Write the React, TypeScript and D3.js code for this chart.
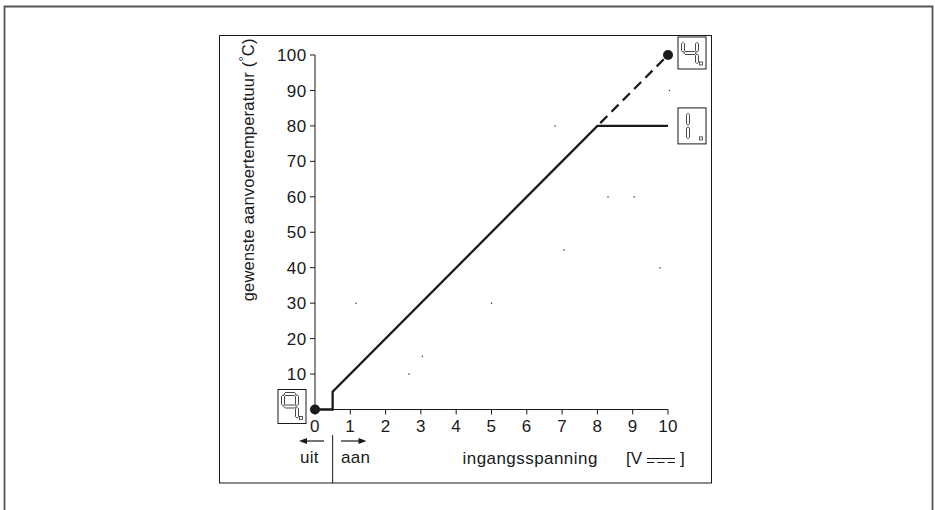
import React from "react";
import * as d3 from "d3";

const voltage = [0, 0.5, 0.5, 8, 10];
const setpoint = [0, 0, 5, 80, 80];
const dashedVoltage = [8, 10];
const dashedSetpoint = [80, 100];
const endDotsV = [0, 10];
const endDotsT = [0, 100];
const xTicks = [0, 1, 2, 3, 4, 5, 6, 7, 8, 9, 10];
const yTicks = [10, 20, 30, 40, 50, 60, 70, 80, 90, 100];
const strayV = [1.16, 2.66, 3.04, 5.0, 6.8, 7.05, 8.3, 9.04, 9.77, 10.04];
const strayT = [30, 10, 15, 30, 80, 45, 60, 60, 40, 90];

const W = 935;
const H = 510;
const FONT = "'Liberation Sans', Arial, Helvetica, sans-serif";
const INK = "#1a1a1a";

type Seg = "a" | "b" | "c" | "d" | "e" | "f" | "g";
function segPoly(seg: Seg, x: number, y: number, w: number, h: number, t: number): string {
  const hh = h / 2;
  const g = 0.8;
  const horiz = (yy: number) => [
    [x + g, yy], [x + g + t / 2, yy - t / 2], [x + w - g - t / 2, yy - t / 2], [x + w - g, yy],
    [x + w - g - t / 2, yy + t / 2], [x + g + t / 2, yy + t / 2],
  ] as [number, number][];
  const vert = (xx: number, y0: number, y1: number) => [
    [xx, y0 + g], [xx + t / 2, y0 + g + t / 2], [xx + t / 2, y1 - g - t / 2], [xx, y1 - g],
    [xx - t / 2, y1 - g - t / 2], [xx - t / 2, y0 + g + t / 2],
  ] as [number, number][];
  let pts: [number, number][] = [];
  switch (seg) {
    case "a": pts = horiz(y); break;
    case "g": pts = horiz(y + hh); break;
    case "d": pts = horiz(y + h); break;
    case "f": pts = vert(x, y, y + hh); break;
    case "e": pts = vert(x, y + hh, y + h); break;
    case "b": pts = vert(x + w, y, y + hh); break;
    case "c": pts = vert(x + w, y + hh, y + h); break;
  }
  return pts.map((p) => p.join(",")).join(" ");
}

function Display({ bx, by, bw, bh, segs, shift = 0 }: { bx: number; by: number; bw: number; bh: number; segs: Seg[]; shift?: number }) {
  const dx = bx + 5 + shift;
  const dy = by + 4.5;
  const dw = 14;
  const dh = bh - 9;
  return (
    <g>
      <rect x={bx} y={by} width={bw} height={bh} fill="#fff" stroke={INK} strokeWidth={1} />
      {segs.map((s) => (
        <polygon key={s} points={segPoly(s, dx, dy, dw, dh, 3)} fill="#fff" stroke="#333" strokeWidth={0.9} strokeLinejoin="round" />
      ))}
      <rect x={bx + bw - 6.5} y={by + bh - 7} width={3} height={3} fill="#fff" stroke="#333" strokeWidth={0.8} />
    </g>
  );
}

export default function App() {
  const x = d3.scaleLinear().domain([0, 10]).range([315, 668]);
  const y = d3.scaleLinear().domain([0, 100]).range([409.5, 55]);
  const solid = d3.line<number>().x((d, i) => x(voltage[i])).y((d, i) => y(setpoint[i]));
  const dashed = d3.line<number>().x((d, i) => x(dashedVoltage[i])).y((d, i) => y(dashedSetpoint[i]));

  return (
    <svg width={W} height={H} style={{ position: "absolute", left: 0, top: 0, background: "#fff" }} fontFamily={FONT}>
      <rect x={0} y={0} width={W} height={H} fill="#fff" />
      <path d="M4.5,515 V6.5 H932.5 V515" fill="none" stroke="#555" strokeWidth={1.8} />
      <rect x={219.5} y={35.5} width={492} height={447.5} fill="none" stroke={INK} strokeWidth={1} />

      <line x1={x(0)} x2={x(0)} y1={y(0)} y2={y(100)} stroke={INK} strokeWidth={1} />
      {yTicks.map((t) => (
        <g key={"y" + t}>
          <line x1={x(0) - 5} x2={x(0)} y1={y(t)} y2={y(t)} stroke={INK} strokeWidth={1} />
          <text x={x(0) - 8.5} y={y(t)} dy="0.36em" textAnchor="end" fontSize={17} letterSpacing={0.4} fill={INK}>
            {t}
          </text>
        </g>
      ))}
      <line x1={x(0)} x2={x(10)} y1={y(0)} y2={y(0)} stroke={INK} strokeWidth={1} />
      {xTicks.map((t) => (
        <g key={"x" + t}>
          <line x1={x(t)} x2={x(t)} y1={y(0)} y2={y(0) + 5} stroke={INK} strokeWidth={1} />
          <text x={x(t)} y={432} textAnchor="middle" fontSize={17} letterSpacing={0.4} fill={INK}>
            {t}
          </text>
        </g>
      ))}

      <text
        transform={`translate(254,${(41.7 + 298) / 2}) rotate(-90)`}
        textAnchor="middle"
        fontSize={16.5}
        letterSpacing={0.2}
        fill={INK}
      >
        gewenste aanvoertemperatuur (<tspan fontSize={13} dy={-6}>°</tspan><tspan dy={6}>C)</tspan>
      </text>

      <text x={462.5} y={464} fontSize={17} letterSpacing={0.45} fill={INK}>ingangsspanning</text>
      <text x={626} y={464} fontSize={17} fill={INK}>[V</text>
      <line x1={647} x2={675} y1={458.5} y2={458.5} stroke={INK} strokeWidth={1} />
      <line x1={647} x2={675} y1={462.5} y2={462.5} stroke={INK} strokeWidth={1} strokeDasharray="7.3,3" />
      <text x={680} y={464} fontSize={17} fill={INK}>]</text>

      <line x1={x(0.5)} x2={x(0.5)} y1={435} y2={483} stroke={INK} strokeWidth={1} />
      <line x1={324} x2={304} y1={441} y2={441} stroke={INK} strokeWidth={1.2} />
      <polygon points="299,441 307,438 307,444" fill={INK} />
      <line x1={341} x2={361} y1={441} y2={441} stroke={INK} strokeWidth={1.2} />
      <polygon points="366.5,441 358.5,438 358.5,444" fill={INK} />
      <text x={300} y={463} fontSize={17} letterSpacing={0.3} fill={INK}>uit</text>
      <text x={341} y={463} fontSize={17} letterSpacing={0.3} fill={INK}>aan</text>

      {strayV.map((v, i) => (
        <rect key={"s" + i} x={x(v) - 0.6} y={y(strayT[i]) - 0.6} width={1.3} height={1.3} fill="#333" />
      ))}

      <path d={solid(voltage) ?? ""} fill="none" stroke={INK} strokeWidth={2.3} strokeLinejoin="miter" />
      <path d={dashed(dashedVoltage) ?? ""} fill="none" stroke={INK} strokeWidth={2.3} strokeDasharray="10,6" strokeDashoffset={-4} />
      {endDotsV.map((v, i) => (
        <circle key={"d" + i} cx={x(v)} cy={y(endDotsT[i])} r={5} fill={INK} />
      ))}

      <Display bx={x(10) + 10} by={y(100) - 18} bw={28} bh={32} segs={["f", "g", "b", "c"]} />
      <Display bx={x(10) + 10} by={y(80) - 18} bw={28} bh={36} segs={["e", "f"]} shift={5} />
      <Display bx={278} by={y(0) - 20} bw={28} bh={34} segs={["a", "b", "c", "f", "g"]} />
    </svg>
  );
}
